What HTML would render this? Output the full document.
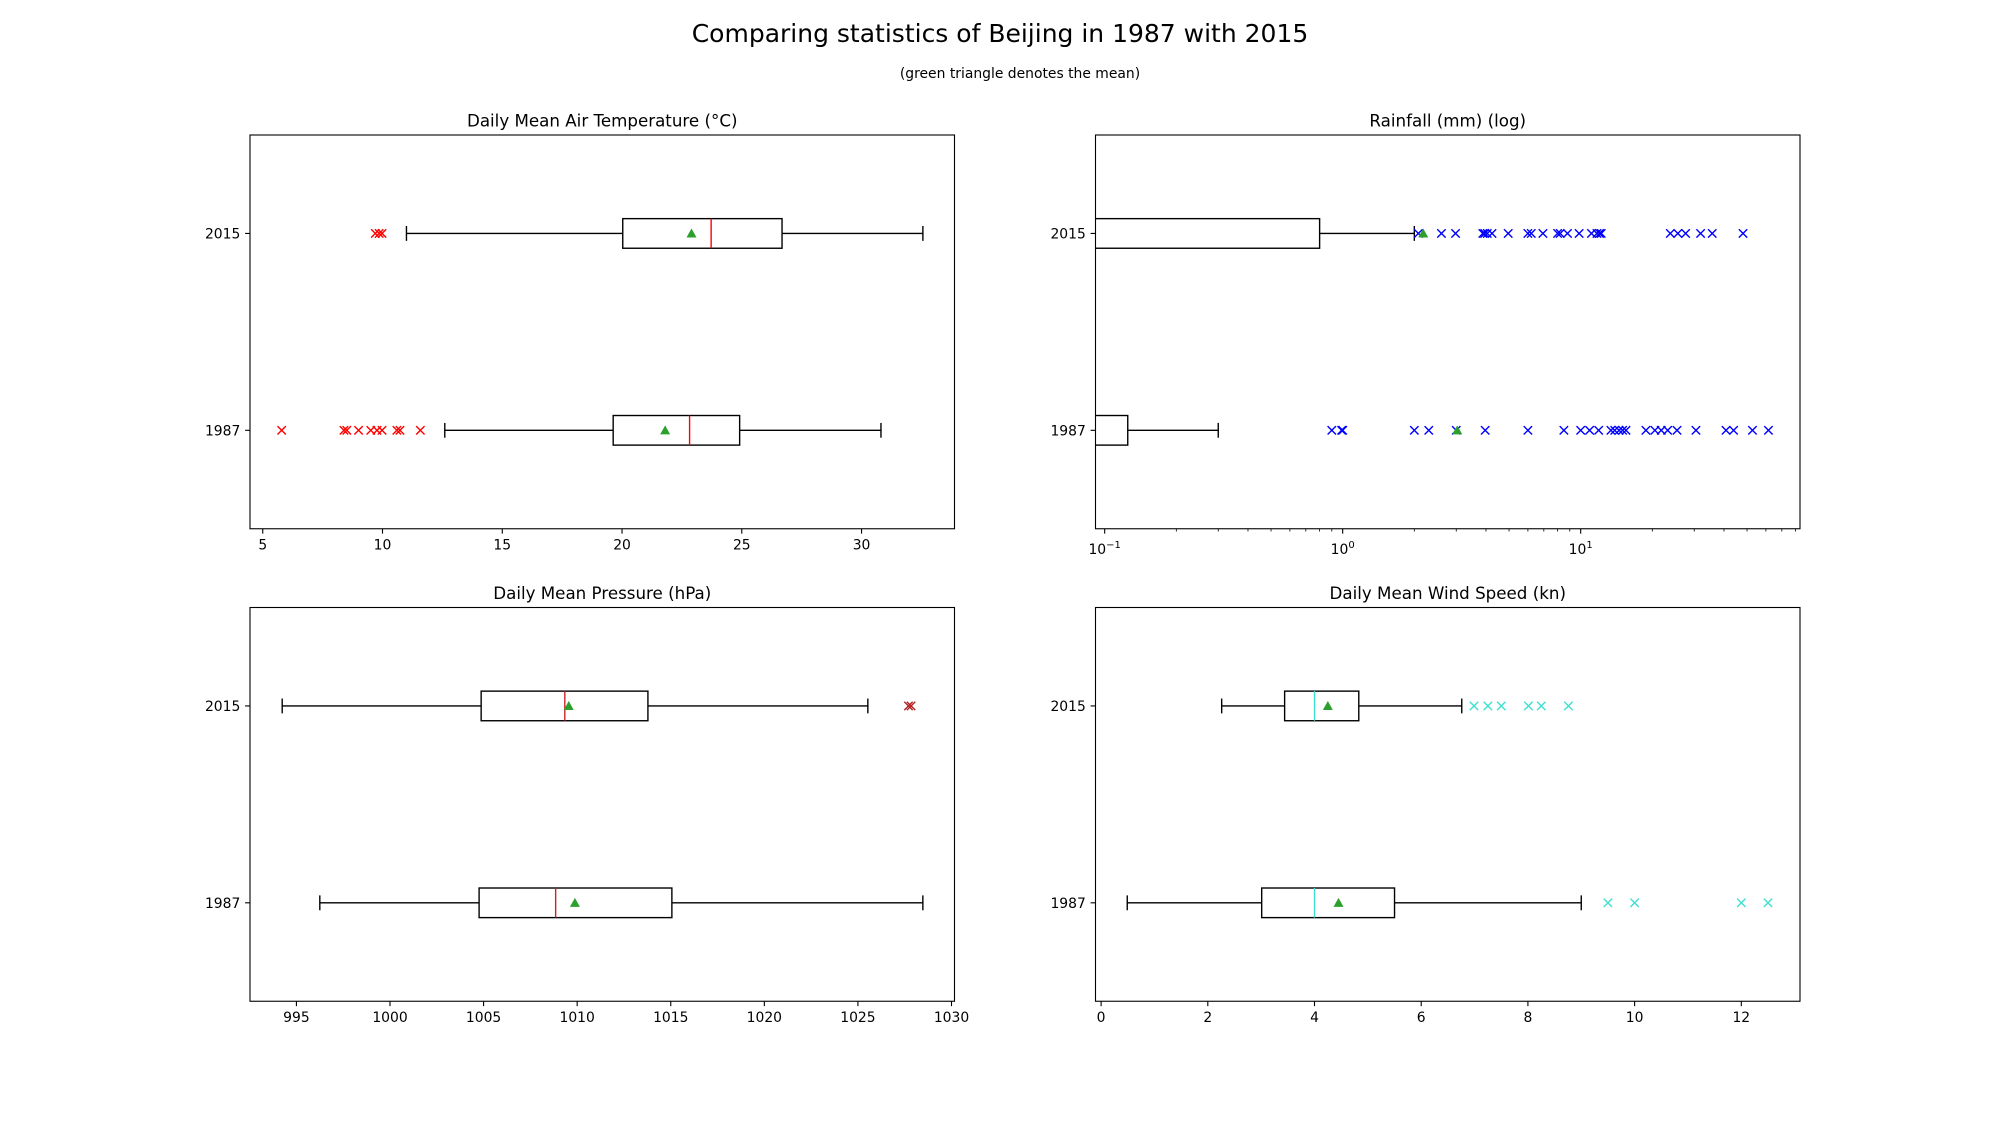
<!DOCTYPE html>
<html><head><meta charset="utf-8"><title>Comparing statistics of Beijing in 1987 with 2015</title>
<style>html,body{margin:0;padding:0;background:#fff}svg{display:block}text{font-family:"DejaVu Sans","Liberation Sans",sans-serif;fill:#000}</style>
</head><body>
<svg id="fig" width="2000" height="1125" viewBox="0 0 2000 1125" xmlns="http://www.w3.org/2000/svg">
<rect width="2000" height="1125" fill="#fff"/>
<text x="1000" y="42" font-size="25" text-anchor="middle">Comparing statistics of Beijing in 1987 with 2015</text>
<text x="1020" y="78" font-size="13.9" text-anchor="middle">(green triangle denotes the mean)</text>
</svg>
<script>
// ---- data (years: 1987, 2015) ----
const years = ["1987", "2015"];
// Temperature
const tempStats1987 = [12.6, 19.63, 22.82, 24.91, 30.81]; // whiskLo, q1, med, q3, whiskHi
const tempStats2015 = [11.0, 20.03, 23.72, 26.68, 32.56];
const tempMean = [21.8, 22.9];
const tempOut1987 = [5.79, 8.39, 8.51, 9.0, 9.51, 9.77, 9.98, 10.6, 10.73, 11.58];
const tempOut2015 = [9.7, 9.86, 9.98];
const tempTicks = [5, 10, 15, 20, 25, 30];
// Rainfall
const rainStats1987 = [0, 0, 0, 0.125, 0.30];
const rainStats2015 = [0, 0, 0, 0.80, 2.0];
const rainMean = [3.03, 2.18];
const rainOut1987 = [0.9, 0.99, 1.0, 2.0, 2.3, 3.0, 3.97, 6.0, 8.5, 10, 10.9, 11.9, 13.4, 13.9, 14.5, 15.0, 15.5, 18.8, 20.5, 21.8, 23.2, 25.4, 30.5, 40.8, 43.9, 52.7, 61.5];
const rainOut2015 = [2.08, 2.6, 2.98, 3.88, 3.95, 4.05, 4.24, 4.96, 6.0, 6.2, 6.94, 8.0, 8.2, 8.8, 9.85, 11.1, 11.7, 12.0, 12.2, 23.8, 25.6, 27.6, 31.9, 35.7, 48.1];
const rainTickExp = [-1, 0, 1];
// Pressure
const presStats1987 = [996.25, 1004.76, 1008.85, 1015.06, 1028.47];
const presStats2015 = [994.24, 1004.87, 1009.34, 1013.78, 1025.53];
const presMean = [1009.88, 1009.55];
const presOut1987 = [];
const presOut2015 = [1027.7, 1027.84];
const presTicks = [995, 1000, 1005, 1010, 1015, 1020, 1025, 1030];
// Wind
const windStats1987 = [0.49, 3.01, 4.0, 5.5, 9.0];
const windStats2015 = [2.26, 3.44, 4.0, 4.83, 6.76];
const windMean = [4.45, 4.25];
const windOut1987 = [9.5, 10, 12, 12.5];
const windOut2015 = [6.99, 7.25, 7.5, 8.01, 8.25, 8.76];
const windTicks = [0, 2, 4, 6, 8, 10, 12];

const NS = "http://www.w3.org/2000/svg";
const fig = document.getElementById("fig");
function mk(tag, attrs, parent) {
  const e = document.createElementNS(NS, tag);
  for (const k in attrs) e.setAttribute(k, attrs[k]);
  (parent || fig).appendChild(e);
  return e;
}
const W = 704.5, H = 393.75;
let clipId = 0;
function panel(cfg) {
  const L = cfg.left, T = cfg.top;
  const g = mk("g", {});
  
  
  const xs = cfg.log
    ? v => { const lv = v > 0 ? Math.log10(v) : cfg.xmin - 1; return L + (lv - cfg.xmin) / (cfg.xmax - cfg.xmin) * W; }
    : v => L + (v - cfg.xmin) / (cfg.xmax - cfg.xmin) * W;
  const ys = v => T + H - (v - 0.5) / 2 * H;
  const cid = "c" + (clipId++);
  const cp = mk("clipPath", { id: cid }, g);
  mk("rect", { x: L, y: T, width: W, height: H }, cp);
  const plot = mk("g", { "clip-path": "url(#" + cid + ")" }, g);
  
  
  const bh = 14.8, cap = 7.4;
  const sets = [[cfg.s1987, cfg.o1987, cfg.mean[0], 1], [cfg.s2015, cfg.o2015, cfg.mean[1], 2]];
  sets.forEach(([s, o, m, pos], i) => {
    const y = ys(pos);
    const bg = mk("g", {}, plot);
    
    
    const lw = 1.39;
    mk("line", { x1: xs(s[0]), x2: xs(s[1]), y1: y, y2: y, stroke: "#000", "stroke-width": lw }, bg);
    mk("line", { x1: xs(s[3]), x2: xs(s[4]), y1: y, y2: y, stroke: "#000", "stroke-width": lw }, bg);
    mk("line", { x1: xs(s[0]), x2: xs(s[0]), y1: y - cap, y2: y + cap, stroke: "#000", "stroke-width": lw }, bg);
    mk("line", { x1: xs(s[4]), x2: xs(s[4]), y1: y - cap, y2: y + cap, stroke: "#000", "stroke-width": lw }, bg);
    const x1 = xs(s[1]), x3 = xs(s[3]);
    mk("rect", { x: x1, y: y - bh, width: x3 - x1, height: 2 * bh, fill: "none", stroke: "#000", "stroke-width": lw }, bg);
    mk("line", { x1: xs(s[2]), x2: xs(s[2]), y1: y - bh, y2: y + bh, stroke: cfg.medColor, "stroke-width": 1.39 }, bg);
    o.forEach(v => {
      const x = xs(v), r = 4.2;
      const p = mk("path", { d: `M${x - r},${y - r}L${x + r},${y + r}M${x - r},${y + r}L${x + r},${y - r}`, stroke: cfg.outColor, "stroke-width": 1.4, fill: "none" }, bg);
      
      
    });
    const mx = xs(m), r = 5;
    const tri = mk("path", { d: `M${mx},${y - r}L${mx + r},${y + r * 0.8}L${mx - r},${y + r * 0.8}Z`, fill: "#2ca02c" }, bg);
    
    
  });
  const frame = mk("rect", { x: L, y: T, width: W, height: H, fill: "none", stroke: "#000", "stroke-width": 1.1 }, g);
  
  
  const t = mk("text", { x: L + W / 2, y: T - 8.3, "font-size": 16.7, "text-anchor": "middle" }, g);
  t.textContent = cfg.title;
  
  
  [1, 2].forEach((p, i) => {
    const y = ys(p);
    mk("line", { x1: L - 4.9, x2: L, y1: y, y2: y, stroke: "#000", "stroke-width": 1.1 }, g);
    const lt = mk("text", { x: L - 9.7, y: y + 5, "font-size": 13.9, "text-anchor": "end" }, g);
    lt.textContent = years[i];
    
    
  });
  const B = T + H;
  if (cfg.log) {
    for (let e = -2; e <= 2; e++) {
      for (let k = 1; k <= 9; k++) {
        const lv = e + Math.log10(k);
        if (lv < cfg.xmin || lv > cfg.xmax) continue;
        const x = L + (lv - cfg.xmin) / (cfg.xmax - cfg.xmin) * W;
        mk("line", { x1: x, x2: x, y1: B, y2: B + (k === 1 ? 4.9 : 2.8), stroke: "#000", "stroke-width": k === 1 ? 1.1 : 0.8 }, g);
      }
    }
    cfg.ticks.forEach(e => {
      const x = L + (e - cfg.xmin) / (cfg.xmax - cfg.xmin) * W;
      const lt = mk("text", { x: x, y: B + 25, "font-size": 13.9, "text-anchor": "middle" }, g);
      
      
      const a = mk("tspan", {}, lt); a.textContent = "10";
      const b = mk("tspan", { dy: -6, "font-size": 10 }, lt); b.textContent = e < 0 ? "\u2212" + (-e) : String(e);
    });
  } else {
    cfg.ticks.forEach(v => {
      const x = xs(v);
      mk("line", { x1: x, x2: x, y1: B, y2: B + 4.9, stroke: "#000", "stroke-width": 1.1 }, g);
      const lt = mk("text", { x: x, y: B + 20.5, "font-size": 13.9, "text-anchor": "middle" }, g);
      lt.textContent = String(v);
      
      
    });
  }
}
panel({ name: "temperature-panel", title: "Daily Mean Air Temperature (°C)", left: 250, top: 135, xmin: 4.468, xmax: 33.88,
  s1987: tempStats1987, s2015: tempStats2015, o1987: tempOut1987, o2015: tempOut2015, mean: tempMean, ticks: tempTicks, medColor: "#ff0000", outColor: "#ff0000" });
panel({ name: "rainfall-panel", title: "Rainfall (mm) (log)", left: 1095.5, top: 135, xmin: -1.0386, xmax: 1.9215, log: true,
  s1987: rainStats1987, s2015: rainStats2015, o1987: rainOut1987, o2015: rainOut2015, mean: rainMean, ticks: rainTickExp, medColor: "#ff0000", outColor: "#0000ff" });
panel({ name: "pressure-panel", title: "Daily Mean Pressure (hPa)", left: 250, top: 607.5, xmin: 992.52, xmax: 1030.16,
  s1987: presStats1987, s2015: presStats2015, o1987: presOut1987, o2015: presOut2015, mean: presMean, ticks: presTicks, medColor: "#cc2222", outColor: "#b22222" });
panel({ name: "wind-panel", title: "Daily Mean Wind Speed (kn)", left: 1095.5, top: 607.5, xmin: -0.105, xmax: 13.1,
  s1987: windStats1987, s2015: windStats2015, o1987: windOut1987, o2015: windOut2015, mean: windMean, ticks: windTicks, medColor: "#40e0d0", outColor: "#40e0d0" });
</script>
</body></html>
